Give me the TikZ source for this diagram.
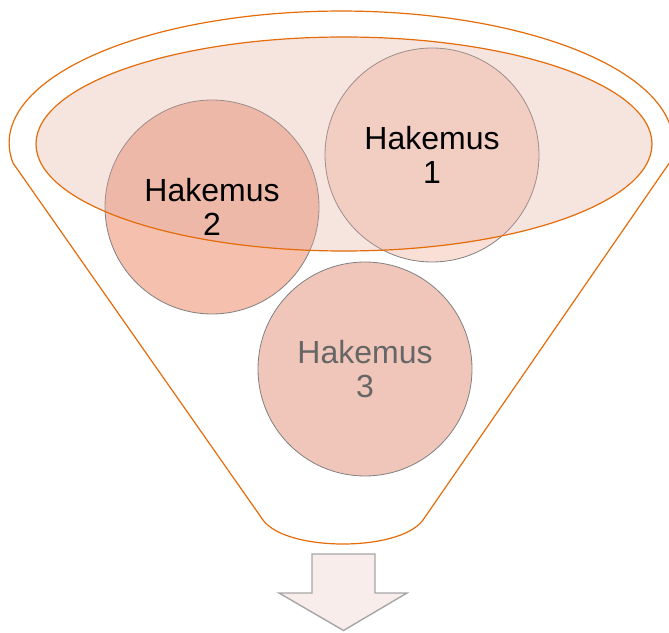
\documentclass[tikz,border=0pt]{standalone}
\usepackage{fontspec}
\setmainfont{Liberation Sans}
\definecolor{funnelorange}{HTML}{E46C0A}
\definecolor{mouthfill}{RGB}{226,170,157}
\definecolor{hakline}{HTML}{808080}
\definecolor{hakone}{RGB}{249,223,213}
\definecolor{haktwo}{RGB}{245,192,174}
\definecolor{hakthree}{RGB}{240,198,186}
\definecolor{outfill}{HTML}{F8EDEB}
\definecolor{outline}{HTML}{A6A6A6}
\definecolor{greytext}{HTML}{666666}
\tikzset{
  funnel/.style={draw=funnelorange, line width=1.2pt},
  hakemus/.style={circle, draw=hakline, line width=0.8pt, minimum size=214pt, inner sep=0pt},
  hakemustext/.style={align=center, font=\fontsize{32}{34}\selectfont},
  outarrow/.style={draw=outline, fill=outfill, line width=1.4pt, line join=miter}
}
\begin{document}
\begin{tikzpicture}[x=1pt,y=1pt]
\useasboundingbox (0,0) rectangle (669,632);
\coordinate (rimleft) at (13,469);
\coordinate (neckright) at (423,112);
\coordinate (neckleft) at (263,112);
\draw[funnel] (rimleft) arc[start angle=188.7, end angle=-8.7, x radius=332, y radius=132]
  -- (neckright) .. controls (400,80) and (286,80) .. (neckleft) -- cycle;
\node[hakemus, fill=hakone] (hak1) at (432,477) {};
\node[hakemus, fill=haktwo] (hak2) at (212,425) {};
\node[hakemus, fill=hakthree] (hak3) at (365,263) {};
\draw[funnel, fill=mouthfill, fill opacity=0.32] (344,488) ellipse [x radius=308, y radius=107];
\node[hakemustext] (label1) at (hak1) {Hakemus\\1};
\node[hakemustext] (label2) at (hak2) {Hakemus\\2};
\node[hakemustext, text=greytext] (label3) at (hak3) {Hakemus\\3};
\draw[outarrow] (312,78) -- (375,78) -- (375,39) -- (407,39) -- (343.5,1.5) -- (279,39) -- (312,39) -- cycle;
\end{tikzpicture}
\end{document}
